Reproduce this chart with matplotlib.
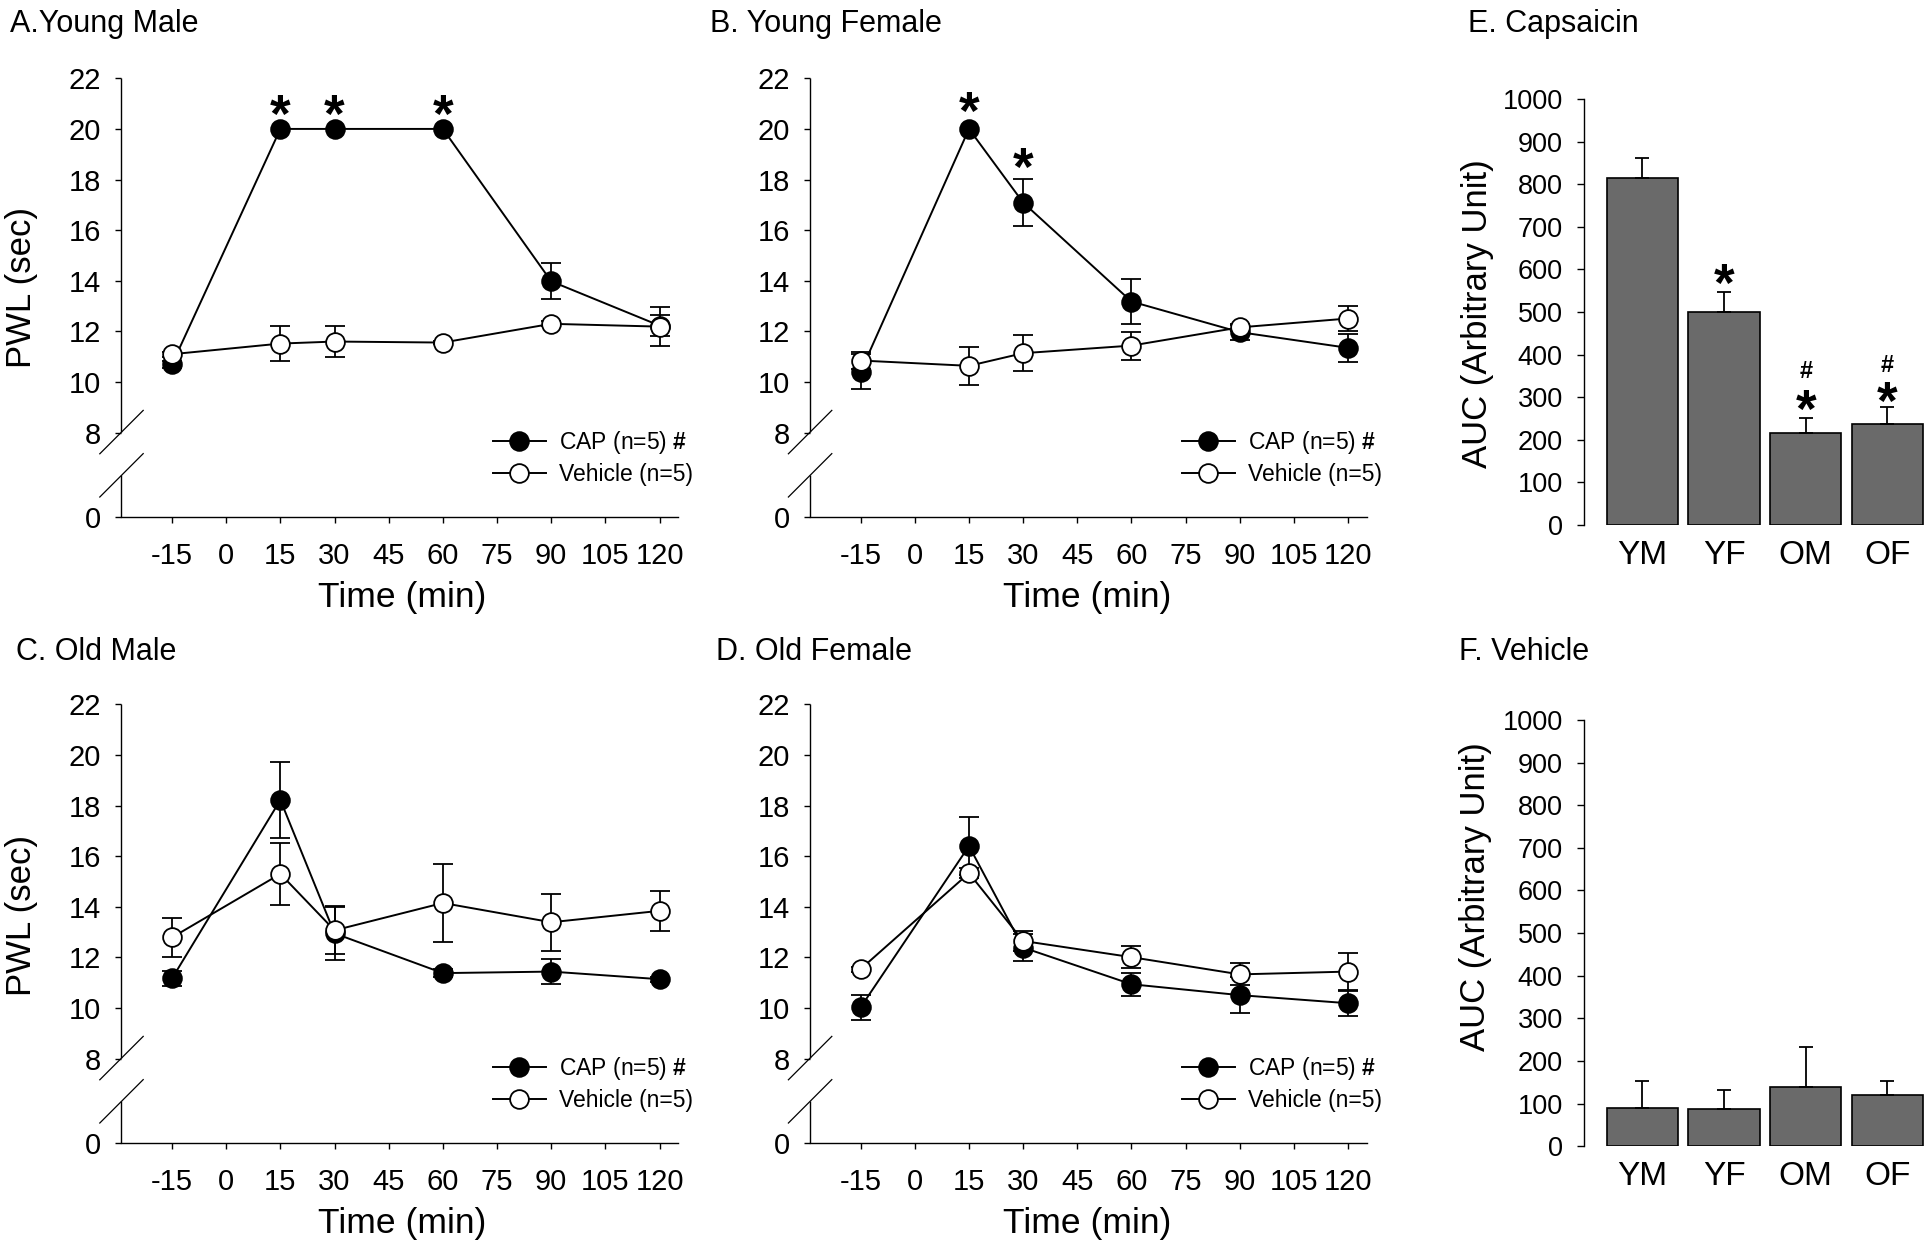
import numpy as np
import matplotlib
matplotlib.use('Agg')
import matplotlib.pyplot as plt
from matplotlib.transforms import ScaledTranslation

plt.rcParams['font.family'] = ['Liberation Sans', 'DejaVu Sans']
plt.rcParams['mathtext.fontset'] = 'custom'
plt.rcParams['mathtext.rm'] = 'Liberation Sans'
plt.rcParams['mathtext.bf'] = 'Liberation Sans:bold'
plt.rcParams['axes.unicode_minus'] = False

W, H = 1930, 1247

# ---- data ----
times = [-15, 15, 30, 60, 90, 120]
time_ticks = [-15, 0, 15, 30, 45, 60, 75, 90, 105, 120]
pwl_ticks = [0, 8, 10, 12, 14, 16, 18, 20, 22]

# A. young male
ym_cap = [10.7, 20.0, 20.0, 20.0, 13.98, 12.23]
ym_cap_err = [0.15, 0, 0, 0, 0.71, 0.43]
ym_veh = [11.1, 11.52, 11.6, 11.56, 12.3, 12.19]
ym_veh_err = [0.1, 0.7, 0.61, 0.05, 0.1, 0.78]
ym_stars = [(15, 19.9), (30, 19.9), (60, 19.9)]

# B. young female
yf_cap = [10.41, 20.0, 17.09, 13.18, 11.97, 11.35]
yf_cap_err = [0.68, 0, 0.93, 0.9, 0.3, 0.55]
yf_veh = [10.85, 10.64, 11.14, 11.44, 12.16, 12.51]
yf_veh_err = [0.35, 0.76, 0.7, 0.55, 0.15, 0.5]
yf_stars = [(15, 20.0), (30, 17.8)]

# C. old male
om_cap = [11.17, 18.22, 12.95, 11.38, 11.44, 11.14]
om_cap_err = [0.3, 1.5, 1.05, 0.15, 0.5, 0.1]
om_veh = [12.79, 15.3, 13.07, 14.15, 13.39, 13.84]
om_veh_err = [0.76, 1.24, 0.95, 1.56, 1.12, 0.79]

# D. old female
of_cap = [10.03, 16.4, 12.39, 10.94, 10.51, 10.19]
of_cap_err = [0.5, 1.16, 0.55, 0.45, 0.72, 0.5]
of_veh = [11.54, 15.33, 12.65, 12.01, 11.33, 11.44]
of_veh_err = [0.1, 0.2, 0.38, 0.43, 0.43, 0.72]

# E / F. AUC
groups = ['YM', 'YF', 'OM', 'OF']
auc_cap = [814, 501, 216, 238]
auc_cap_err = [47, 47, 35, 38]
auc_veh = [89, 87, 139, 119]
auc_veh_err = [64, 44, 93, 34]
cap_marks = [(1, 527), (2, 230), (3, 249)]
cap_hash = [(2, 345), (3, 359)]

# ---- broken y scale: 0..8 squeezed ----
K = 3.32 / 8


def fwd(y):
	y = np.asarray(y, dtype=float)
	return np.where(y >= 8, y, 8 - (8 - y) * K)


def inv(u):
	u = np.asarray(u, dtype=float)
	return np.where(u >= 8, u, 8 - (8 - u) / K)


def rect(left, top, width, height):
	return [left / W, 1 - (top + height) / H, width / W, height / H]


def ftext(x, y, s, **kw):
	fig.text(x / W, 1 - y / H, s, **kw)


fig = plt.figure(figsize=(W / 100, H / 100), dpi=100)


def errbars(ax, x, y, e):
	x, y, e = np.array(x), np.array(y), np.array(e)
	m = e > 0
	ax.errorbar(x[m], y[m], yerr=e[m], fmt='none', ecolor='k', elinewidth=1.3,
				capsize=7, capthick=1.3, zorder=2)


def pwl_panel(left, top, cap, cap_err, veh, veh_err, stars, legend_xy):
	ax = fig.add_axes(rect(left, top, 556.8, 438.4))
	errbars(ax, times, cap, cap_err)
	errbars(ax, times, veh, veh_err)
	l1, = ax.plot(times, cap, '-o', color='k', mfc='k', mec='k', ms=13.5, mew=1.3, lw=1.4, zorder=3)
	l2, = ax.plot(times, veh, '-o', color='k', mfc='w', mec='k', ms=13.5, mew=1.3, lw=1.4, zorder=4)
	for t, y in stars:
		ax.text(t, y, '*', ha='center', va='baseline', fontsize=38, fontweight='bold')

	ax.set_yscale('function', functions=(fwd, inv))
	ax.set_xlim(-29, 125.2)
	ax.set_ylim(0, 22)
	ax.set_xticks(time_ticks)
	ax.set_yticks(pwl_ticks)
	ax.tick_params(axis='both', direction='out', length=4.5, width=1.0, labelsize=21)
	ax.tick_params(axis='x', pad=13.5)
	ax.tick_params(axis='y', pad=10)
	for s in ('top', 'right', 'left'):
		ax.spines[s].set_visible(False)
	ax.spines['bottom'].set_linewidth(1.0)

	# left spine in two pieces with break marks
	f1, f2 = 0.193, 0.0944
	ax.plot([0, 0], [f1, 1], transform=ax.transAxes, color='k', lw=1.0, clip_on=False, solid_capstyle='butt')
	ax.plot([0, 0], [0, f2], transform=ax.transAxes, color='k', lw=1.0, clip_on=False, solid_capstyle='butt')
	for f in (f1, f2):
		tr = fig.dpi_scale_trans + ScaledTranslation(0, f, ax.transAxes)
		ax.plot([-0.217, 0.217], [-0.217, 0.217], color='k', lw=0.9, transform=tr, clip_on=False)

	ax.legend([l1, l2], ['CAP (n=5) $\\mathbf{\\#}$', 'Vehicle (n=5)'],
			  loc='center left', bbox_to_anchor=(legend_xy[0] / W, 1 - legend_xy[1] / H),
			  bbox_transform=fig.transFigure, frameon=False, fontsize=16.5,
			  handlelength=2.3, handletextpad=0.6, borderpad=0, borderaxespad=0,
			  labelspacing=0.3)
	return ax


pwl_panel(121.5, 78.3, ym_cap, ym_cap_err, ym_veh, ym_veh_err, ym_stars, (493, 457.8))
pwl_panel(810.1, 78.3, yf_cap, yf_cap_err, yf_veh, yf_veh_err, yf_stars, (1182, 457.8))
pwl_panel(121.5, 704.3, om_cap, om_cap_err, om_veh, om_veh_err, [], (493, 1083.8))
pwl_panel(810.1, 704.3, of_cap, of_cap_err, of_veh, of_veh_err, [], (1182, 1083.8))


def auc_panel(top, vals, errs):
	ax = fig.add_axes(rect(1584.2, top, 344.1, 426.2))
	x = np.arange(len(groups))
	ax.bar(x, vals, width=0.873, color='#6a6a6a', edgecolor='k', linewidth=1.2,
		   yerr=[np.zeros(len(errs)), errs], capsize=5.2,
		   error_kw=dict(elinewidth=1.3, capthick=1.3, ecolor='k'))
	ax.set_xlim(-0.712, 3.5)
	ax.set_ylim(0, 1000)
	ax.set_yticks(range(0, 1001, 100))
	ax.set_xticks(x)
	ax.set_xticklabels(groups)
	ax.tick_params(axis='y', direction='out', length=5, width=1.0, labelsize=19.5, pad=10.5)
	ax.tick_params(axis='x', length=0, labelsize=24, pad=11)
	for s in ('top', 'right', 'bottom'):
		ax.spines[s].set_visible(False)
	ax.spines['left'].set_linewidth(1.0)
	return ax


axE = auc_panel(98.9, auc_cap, auc_cap_err)
for i, y in cap_marks:
	axE.text(i, y, '*', ha='center', va='baseline', fontsize=38, fontweight='bold')
for i, y in cap_hash:
	axE.text(i, y, '#', ha='center', va='baseline', fontsize=17, fontweight='bold')
auc_panel(720, auc_veh, auc_veh_err)

# ---- titles and axis labels ----
for x, y, s in [(10, 31.6, 'A.Young Male'), (709.8, 31.6, 'B. Young Female'),
				(16, 660, 'C. Old Male'), (715.6, 660, 'D. Old Female'),
				(1467.6, 32.4, 'E. Capsaicin'), (1459, 660, 'F. Vehicle')]:
	ftext(x, y, s, ha='left', va='baseline', fontsize=22)

for x, y in [(402.6, 607), (1087, 607), (402.6, 1233), (1087, 1233)]:
	ftext(x, y, 'Time (min)', ha='center', va='baseline', fontsize=25.5)

ftext(21.8, 287.6, 'PWL (sec)', rotation=90, ha='center', va='center', fontsize=25)
ftext(21.8, 915, 'PWL (sec)', rotation=90, ha='center', va='center', fontsize=25)
ftext(1477.7, 314, 'AUC (Arbitrary Unit)', rotation=90, ha='center', va='center', fontsize=25)
ftext(1476, 897, 'AUC (Arbitrary Unit)', rotation=90, ha='center', va='center', fontsize=25)

fig.savefig('out.png', dpi=100)
